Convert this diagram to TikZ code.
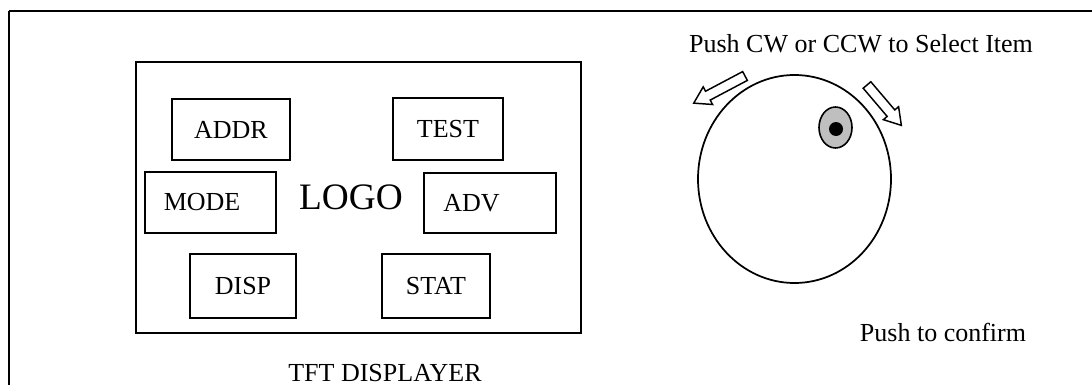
\documentclass[tikz,border=0pt]{standalone}
\usepackage{fontspec}
\setmainfont{Liberation Serif}
\usepackage{tikz}
\usetikzlibrary{calc, positioning, shapes.geometric}

\begin{document}
\begin{tikzpicture}[x=0.75pt, y=-0.75pt, line width=1.5pt,
	txt/.style={font=\fontsize{19.5}{23}\selectfont, inner sep=0pt},
	key/.style={txt, draw, rectangle},
	keyl/.style={key, align=left, text width=70pt, inner xsep=14.25pt}]
	\useasboundingbox (0,0) rectangle (1092,385);
	\clip (0,0) rectangle (1092,385);
	
	% panel frame
	\draw (9,11.5) -- (1100,11.5);
	\draw (9,11.5) -- (9,400);
	
	% display with keys
	\node[draw, rectangle, minimum width=333.75pt, minimum height=203.25pt] (screen) at (358.5,197.5) {};
	\node[key, minimum width=88.5pt, minimum height=45.75pt] (addr) at (231,129.5) {ADDR};
	\node[key, minimum width=82.5pt, minimum height=46.5pt] (test) at (448,129) {TEST};
	\node[keyl, minimum height=45.75pt] (mode) at (210.5,202.5) {MODE};
	\node[keyl, minimum height=45pt] (adv) at (490,203) {ADV};
	\node[key, minimum width=79.5pt, minimum height=48pt] (disp) at (243,286) {DISP};
	\node[key, minimum width=81pt, minimum height=48pt] (stat) at (436,286) {STAT};
	\node[inner sep=0pt, font=\fontsize{28}{32}\selectfont] (logo) at (351,197) {LOGO};
	\node[txt, anchor=base] (tft) at (385,381) {TFT DISPLAYER};
	
	% dial
	\node[draw, ellipse, line width=1.3pt, minimum width=144.75pt, minimum height=156pt] (dial) at (794.5,179) {};
	\node[draw, ellipse, line width=1.2pt, fill=black!25, minimum width=24.75pt, minimum height=30.75pt] (mark) at (835.5,127.5) {};
	\node[circle, fill=black, inner sep=0pt, minimum size=10.5pt] (dot) at (836,129) {};
	\begin{scope}[shift={(745,76)}, rotate=207.9, line width=1.1pt]
		\draw (0,-5) -- (42,-5) -- (42,-10) -- (58,0) -- (42,10) -- (42,5) -- (0,5) -- cycle;
	\end{scope}
	\begin{scope}[shift={(867,85)}, rotate=-49.6, line width=1.1pt]
		\draw (0,-5) -- (37,-5) -- (37,-10) -- (53,0) -- (37,10) -- (37,5) -- (0,5) -- cycle;
	\end{scope}
	\node[txt, anchor=base] (ccw) at (861,53) {Push CW or CCW to Select Item};
	\node[txt, anchor=base] (ok) at (943,341) {Push to confirm};
\end{tikzpicture}
\end{document}
